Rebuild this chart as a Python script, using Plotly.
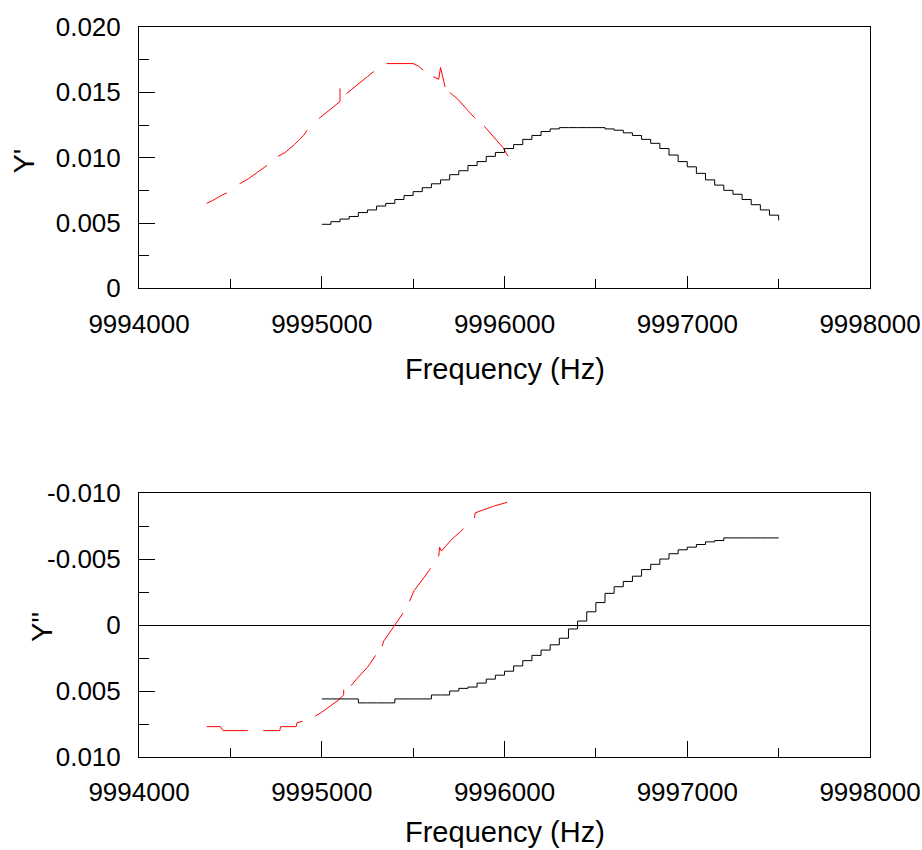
import plotly.graph_objects as go

# ---------------- data ----------------
# Top panel (Y') - black series
black_top_f = [9995000, 9995050, 9995100, 9995150, 9995200, 9995250, 9995300, 9995350,
               9995400, 9995450, 9995500, 9995550, 9995600, 9995650, 9995700, 9995750,
               9995800, 9995850, 9995900, 9995950, 9996000, 9996050, 9996100, 9996150,
               9996200, 9996250, 9996300, 9996350, 9996400, 9996450, 9996500, 9996550,
               9996600, 9996650, 9996700, 9996750, 9996800, 9996850, 9996900, 9996950,
               9997000, 9997050, 9997100, 9997150, 9997200, 9997250, 9997300, 9997350,
               9997400, 9997450, 9997500]
black_top_v = [0.0049, 0.0051, 0.0053, 0.0055, 0.0058, 0.0060, 0.0063, 0.0065,
               0.0068, 0.0071, 0.0074, 0.0077, 0.0080, 0.0083, 0.0087, 0.0090,
               0.0094, 0.0097, 0.0101, 0.0104, 0.0107, 0.0110, 0.0114, 0.0117,
               0.0120, 0.0122, 0.0123, 0.0123, 0.0123, 0.0123, 0.0123, 0.0122,
               0.0121, 0.0119, 0.0117, 0.0114, 0.0111, 0.0107, 0.0102, 0.0097,
               0.0093, 0.0088, 0.0083, 0.0079, 0.0075, 0.0072, 0.0068, 0.0064,
               0.0060, 0.0056, 0.0052]

# Top panel (Y') - red series (None = gap in the trace)
red_top_f = [9994370, 9994400, 9994450, 9994480, None,
             9994550, 9994600, 9994650, 9994700, None,
             9994760, 9994800, 9994850, 9994900, 9994920, None,
             9994985, 9995050, 9995100, 9995100, None,
             9995135, 9995200, 9995250, 9995285, None,
             9995355, 9995500, 9995530, 9995555, None,
             9995610, 9995640, 9995650, 9995675, None,
             9995700, 9995750, 9995800, 9995840, None,
             9995890, 9995950, 9995990, 9996020]
red_top_v = [0.0065, 0.0067, 0.0071, 0.0073, None,
             0.0080, 0.0084, 0.0089, 0.0094, None,
             0.0101, 0.0104, 0.0110, 0.0117, 0.0121, None,
             0.0130, 0.0137, 0.0143, 0.0153, None,
             0.0149, 0.0156, 0.0162, 0.0166, None,
             0.0172, 0.0172, 0.0170, 0.0167, None,
             0.0162, 0.0160, 0.0169, 0.0154, None,
             0.0150, 0.0144, 0.0136, 0.0130, None,
             0.0124, 0.0114, 0.0108, 0.0101]

# Bottom panel (Y'') - black series
black_bot_f = black_top_f
black_bot_v = [0.0056, 0.0056, 0.0056, 0.0056, 0.0059, 0.0059, 0.0059, 0.0059,
               0.0056, 0.0056, 0.0056, 0.0056, 0.0053, 0.0053, 0.0050, 0.0048,
               0.0047, 0.0044, 0.0041, 0.0038, 0.0035, 0.0031, 0.0027, 0.0023,
               0.0019, 0.0015, 0.0010, 0.0003, -0.0003, -0.0010, -0.0017, -0.0024,
               -0.0029, -0.0033, -0.0037, -0.0042, -0.0046, -0.0050, -0.0054, -0.0057,
               -0.0059, -0.0061, -0.0063, -0.0064, -0.0066, -0.0066, -0.0066, -0.0066,
               -0.0066, -0.0066, -0.0066]

# Bottom panel (Y'') - red series
red_bot_f = [9994370, 9994445, 9994460, 9994595, None,
             9994680, 9994770, 9994775, 9994860, 9994865, 9994895, None,
             9994965, 9995000, 9995050, 9995090, 9995120, 9995120, None,
             9995160, 9995190, 9995250, 9995295, None,
             9995330, 9995340, 9995395, 9995445, None,
             9995480, 9995505, 9995560, 9995595, None,
             9995640, 9995645, 9995655, 9995705, 9995760, 9995775, None,
             9995835, 9995840, 9995880, 9995940, 9996015]
red_bot_v = [0.0077, 0.0077, 0.0080, 0.0080, None,
             0.0080, 0.0080, 0.0077, 0.0077, 0.0074, 0.0073, None,
             0.0069, 0.0066, 0.0061, 0.0057, 0.0053, 0.0049, None,
             0.0046, 0.0041, 0.0032, 0.0023, None,
             0.0016, 0.0012, 0.0001, -0.0009, None,
             -0.0018, -0.0026, -0.0036, -0.0043, None,
             -0.0052, -0.0059, -0.0056, -0.0064, -0.0071, -0.0073, None,
             -0.0081, -0.0085, -0.0087, -0.0090, -0.0093]

x_ticks = [9994000, 9995000, 9996000, 9997000, 9998000]
x_ticktext = ["9994000", "9995000", "9996000", "9997000", "9998000"]
top_yticks = [0, 0.005, 0.010, 0.015, 0.020]
top_yticktext = ["0", "0.005", "0.010", "0.015", "0.020"]
bot_yticks = [-0.010, -0.005, 0, 0.005, 0.010]
bot_yticktext = ["-0.010", "-0.005", "0", "0.005", "0.010"]

FONT = "Liberation Sans, Arial, sans-serif"

fig = go.Figure()
fig.add_trace(go.Scatter(x=red_top_f, y=red_top_v, mode="lines", connectgaps=False,
                         line=dict(color="#ff0000", width=1), xaxis="x", yaxis="y"))
fig.add_trace(go.Scatter(x=black_top_f, y=black_top_v, mode="lines", line_shape="hv",
                         line=dict(color="black", width=1), xaxis="x", yaxis="y"))
fig.add_trace(go.Scatter(x=red_bot_f, y=red_bot_v, mode="lines", connectgaps=False,
                         line=dict(color="#ff0000", width=1), xaxis="x2", yaxis="y2"))
fig.add_trace(go.Scatter(x=black_bot_f, y=black_bot_v, mode="lines", line_shape="hv",
                         line=dict(color="black", width=1), xaxis="x2", yaxis="y2"))

def xaxis(anchor, ticklen):
    return dict(anchor=anchor, domain=[0, 1], range=[9994000, 9998000],
                tickvals=x_ticks, ticktext=x_ticktext, ticks="inside", ticklen=ticklen,
                tickcolor="black", tickwidth=1, automargin=False,
                minor=dict(dtick=500, ticks="inside", ticklen=9, tickcolor="black", tickwidth=1),
                showline=True, linecolor="black", linewidth=1, mirror=True,
                showgrid=False, zeroline=False, ticklabelstandoff=12,
                tickfont=dict(family=FONT, size=26, color="black"))

def yaxis(anchor, domain, rng, vals, text, zl):
    return dict(anchor=anchor, domain=domain, range=rng,
                tickvals=vals, ticktext=text, ticks="inside", ticklen=16,
                tickcolor="black", tickwidth=1, automargin=False,
                minor=dict(dtick=0.0025, ticks="inside", ticklen=10, tickcolor="black", tickwidth=1),
                showline=True, linecolor="black", linewidth=1, mirror=True,
                showgrid=False, zeroline=zl, zerolinecolor="black", zerolinewidth=1,
                ticklabelstandoff=12,
                tickfont=dict(family=FONT, size=26, color="black"))

fig.update_layout(
    width=922, height=850,
    margin=dict(l=139, r=52, t=27, b=93),
    paper_bgcolor="white", plot_bgcolor="white",
    showlegend=False,
    xaxis=xaxis("y", 12),
    yaxis=yaxis("x", [0.642, 1.0], [0, 0.020], top_yticks, top_yticktext, False),
    xaxis2=xaxis("y2", 16),
    yaxis2=yaxis("x2", [0.0, 0.3616], [0.010, -0.010], bot_yticks, bot_yticktext, True),
    font=dict(family=FONT, color="black"),
)

ann_font = dict(family=FONT, size=29, color="black")
fig.add_annotation(text="Frequency (Hz)", xref="paper", yref="paper", x=0.5, y=0.5315,
                   xanchor="center", yanchor="middle", showarrow=False, font=ann_font)
fig.add_annotation(text="Frequency (Hz)", xref="paper", yref="paper", x=0.5, y=-0.1027,
                   xanchor="center", yanchor="middle", showarrow=False, font=ann_font)
fig.add_annotation(text="Y'", xref="paper", yref="paper", x=-0.157, y=0.816,
                   xanchor="center", yanchor="middle", showarrow=False, textangle=-90,
                   font=ann_font)
fig.add_annotation(text="Y''", xref="paper", yref="paper", x=-0.1327, y=0.178,
                   xanchor="center", yanchor="middle", showarrow=False, textangle=-90,
                   font=ann_font)

fig.write_html("out.html")
